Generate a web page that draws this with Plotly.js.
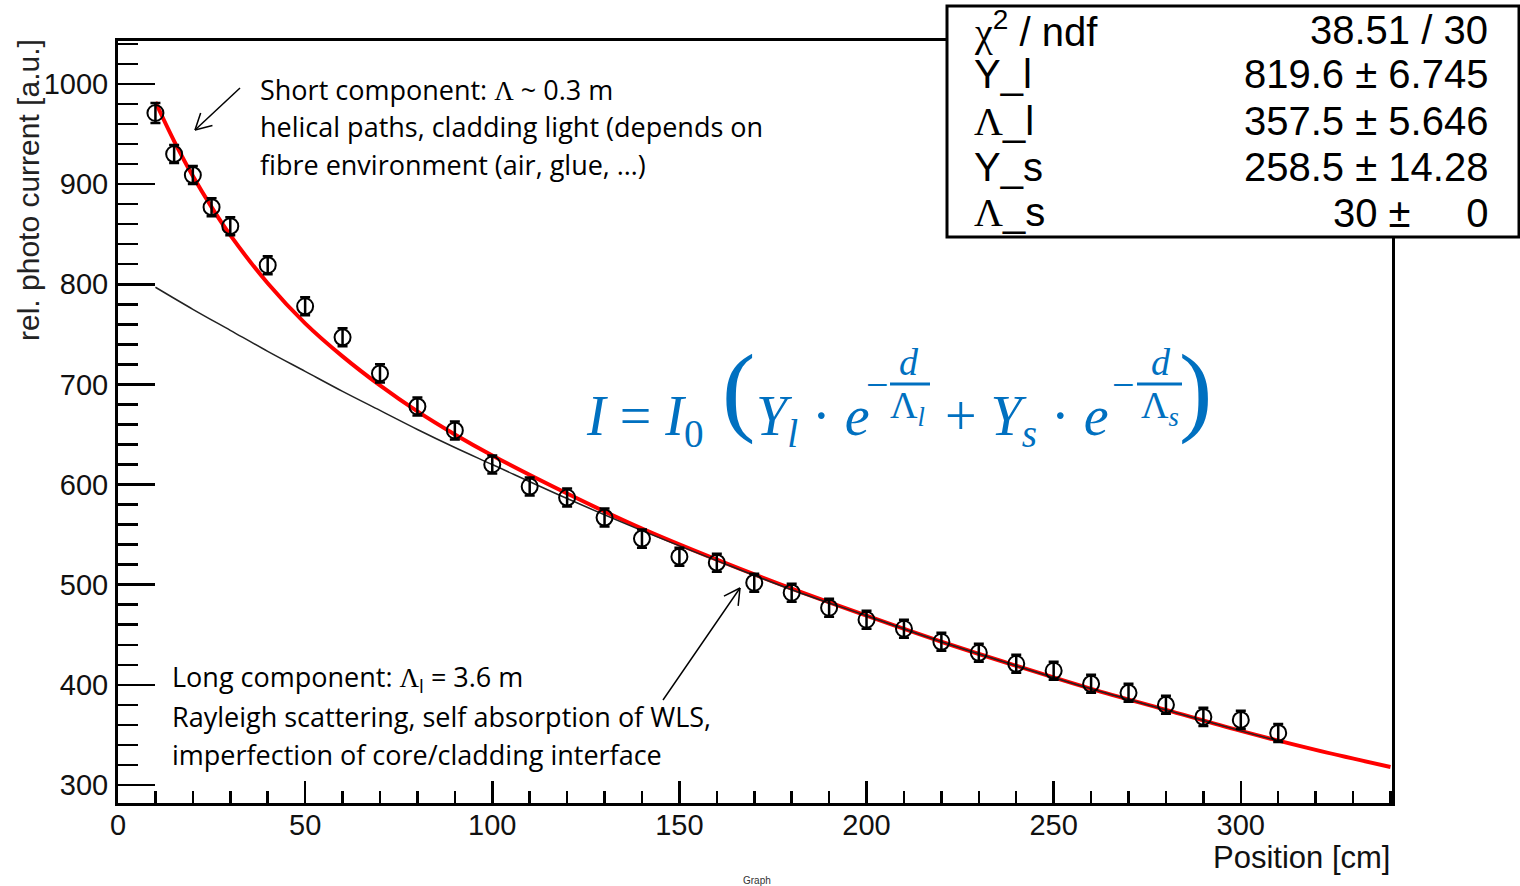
<!DOCTYPE html>
<html>
<head>
<meta charset="utf-8">
<script src="https://cdn.plot.ly/plotly-3.0.1.min.js"></script>
<style>
  body { margin: 0; background: #fff; }
  #myChart { width: 1520px; height: 886px; }
</style>
</head>
<body>
<div id="myChart"></div>
<script>
// measured points (position in cm, photo current)
var posCm = [10, 15, 20, 25, 30, 40, 50, 60, 70, 80, 90, 100, 110, 120, 130, 140, 150,
  160, 170, 180, 190, 200, 210, 220, 230, 240, 250, 260, 270, 280, 290, 300, 310];
var current = [971, 930, 909, 877, 858, 819, 778, 747, 711, 678, 654, 620, 598, 587, 567, 546, 528,
  522, 502, 492, 477, 465, 456, 443, 432, 421, 414, 401, 392, 380, 368, 365, 352];
var currentErr = [10, 9, 9, 9, 9, 9, 9, 9, 9, 9, 9, 9, 9, 9, 9, 9, 9,
  9, 9, 9, 9, 9, 9, 9, 9, 9, 9, 9, 9, 9, 9, 9, 9];

// red fit curve
var fitX = [10, 15, 20, 25, 30, 40, 50, 60, 70, 80, 90, 100, 120, 140, 160, 180, 200, 220, 240, 260, 280, 300, 320, 340];
var fitY = [982, 943, 908, 877, 849, 801, 761, 728, 699, 673, 650, 629, 591, 556, 525, 496, 469, 443, 419, 396, 375, 354, 335, 318];

// thin black long component curve
var longX = [10, 20, 30, 40, 50, 60, 70, 80, 90, 100, 120, 140, 160, 180, 200, 220, 240, 260, 280, 300, 310];
var longY = [797, 775, 754, 733, 713, 693, 674, 655, 637, 620, 586, 554, 524, 495, 469, 443, 419, 396, 375, 354, 344];

// stats box
var SERIF = "<span style='font-family:Liberation Serif'>";
var statNames = [SERIF + "χ</span><sup>2</sup> / ndf", "Y_l", SERIF + "Λ</span>_l", "Y_s", SERIF + "Λ</span>_s"];
var statValues = ["38.51 / 30", "819.6 ± 6.745", "357.5 ± 5.646", "258.5 ± 14.28", "30 ±&nbsp;&nbsp;&nbsp;&nbsp;&nbsp;0"];

var shortText = [
  "Short component: " + SERIF + "Λ</span> ~ 0.3 m",
  "helical paths, cladding light (depends on",
  "fibre environment (air, glue, …)"
];
var longText = [
  "Long component: " + SERIF + "Λ</span><sub>l</sub> = 3.6 m",
  "Rayleigh scattering, self absorption of WLS,",
  "imperfection of core/cladding interface"
];

// pieces of the formula: text, left/center pixel x, pixel y, anchor, size
var formula = [
  ["<i>I</i> = <i>I</i><sub>0</sub>", 584, 420, "left", 56],
  ["(", 738, 389, "center", 100],
  ["<i>Y<sub>l</sub></i> · <i>e</i>", 754, 420, "left", 56],
  ["−", 877, 384, "center", 40],
  ["<i>d</i>", 909, 362, "center", 38],
  ["Λ<i><sub>l</sub></i>", 908, 408, "center", 38],
  ["+ <i>Y<sub>s</sub></i> · <i>e</i>", 943, 420, "left", 56],
  ["−", 1123, 384, "center", 40],
  ["<i>d</i>", 1161, 362, "center", 38],
  ["Λ<i><sub>s</sub></i>", 1160, 408, "center", 38],
  [")", 1195, 389, "center", 100],
];
var fracBars = [[890, 930], [1137, 1182]];

// pointer arrows in pixels: tail x, tail y, head x, head y
var pointers = [[240, 88, 195, 130], [663, 700, 740, 588]];

document.addEventListener("DOMContentLoaded", () => {
  // plot area is 118..1392 px wide and 41..803 px tall
  function px(x) { return (x - 118) / 1274; }
  function py(y) { return (803 - y) / 762; }

  function line(x0, y0, x1, y1, color, width) {
    return {
      type: "line", xref: "paper", yref: "paper", layer: "above",
      x0: px(x0), y0: py(y0), x1: px(x1), y1: py(y1),
      line: { color: color, width: width },
    };
  }

  function PlotData() {
    var data = [
      {
        type: "scatter",
        x: fitX,
        y: fitY,
        mode: "lines",
        line: { color: "#ff0000", width: 4, shape: "spline" },
        hoverinfo: "skip",
      },
      {
        type: "scatter",
        x: longX,
        y: longY,
        mode: "lines",
        line: { color: "#222", width: 1.5, shape: "spline" },
        hoverinfo: "skip",
      },
      {
        type: "scatter",
        x: posCm,
        y: current,
        mode: "markers",
        marker: { symbol: "circle-open", size: 16, color: "#000", line: { width: 2, color: "#000" } },
        error_y: { type: "data", array: currentErr, visible: true, color: "#000", thickness: 2.5, width: 5 },
      },
    ];

    var sans = "Liberation Sans, Arial, sans-serif";
    var tickFont = { family: sans, size: 29, color: "#111" };
    var annotations = [];
    var shapes = [];

    // text blocks, one annotation per line
    shortText.forEach((t, i) => {
      annotations.push({
        xref: "paper", yref: "paper", x: px(258), y: py(89 + i * 38),
        xanchor: "left", yanchor: "middle", showarrow: false, text: t,
        font: { family: "Open Sans, sans-serif", size: 27, color: "#000" },
      });
    });
    longText.forEach((t, i) => {
      annotations.push({
        xref: "paper", yref: "paper", x: px(170), y: py(678 + i * 38),
        xanchor: "left", yanchor: "middle", showarrow: false, text: t,
        font: { family: "Open Sans, sans-serif", size: 27, color: "#000" },
      });
    });

    // thin open arrows
    pointers.forEach((p) => {
      shapes.push(line(p[0], p[1], p[2], p[3], "#000", 1.5));
      var ang = Math.atan2(p[1] - p[3], p[0] - p[2]);
      [-0.5, 0.5].forEach((d) => {
        shapes.push(line(p[2], p[3], p[2] + 18 * Math.cos(ang + d), p[3] + 18 * Math.sin(ang + d), "#000", 1.5));
      });
    });

    // formula, piece by piece
    formula.forEach((f) => {
      annotations.push({
        xref: "paper", yref: "paper", x: px(f[1]), y: py(f[2]), xanchor: f[3], yanchor: "middle",
        showarrow: false, text: f[0],
        font: { family: "Liberation Serif, DejaVu Serif, serif", size: f[4], color: "#0070c0" },
      });
    });
    fracBars.forEach((b) => {
      shapes.push(line(b[0], 384, b[1], 384, "#0070c0", 3));
    });

    // stats box
    shapes.push({
      type: "rect", xref: "paper", yref: "paper", layer: "above",
      x0: px(947), x1: px(1519), y0: py(237), y1: py(6),
      line: { color: "#000", width: 3 }, fillcolor: "#fff",
    });
    var rowY = [30, 74, 121, 167, 213];
    statNames.forEach((name, i) => {
      annotations.push({
        xref: "paper", yref: "paper", x: px(972), y: py(rowY[i]), xanchor: "left", yanchor: "middle",
        showarrow: false, text: name,
        font: { family: sans, size: 40, color: "#000" },
      });
      annotations.push({
        xref: "paper", yref: "paper", x: px(1490), y: py(rowY[i]), xanchor: "right", yanchor: "middle",
        showarrow: false, text: statValues[i],
        font: { family: sans, size: 40, color: "#000" },
      });
    });

    // axis titles as annotations (ROOT puts them at the axis end)
    annotations.push({
      xref: "paper", yref: "paper", x: px(28), y: py(37), xanchor: "center", yanchor: "top",
      textangle: -90, showarrow: false, text: "rel. photo current [a.u.]",
      font: { family: sans, size: 30, color: "#222" },
    });
    annotations.push({
      xref: "paper", yref: "paper", x: 1, y: py(857), xanchor: "right", yanchor: "middle",
      showarrow: false, text: "Position [cm]",
      font: { family: sans, size: 31, color: "#111" },
    });
    annotations.push({
      xref: "paper", yref: "paper", x: px(757), y: py(880), xanchor: "center", yanchor: "middle",
      showarrow: false, text: "Graph",
      font: { family: sans, size: 10, color: "#333" },
    });

    var layout = {
      width: 1520,
      height: 886,
      margin: { l: 118, r: 128, t: 41, b: 83 },
      paper_bgcolor: "#fff",
      plot_bgcolor: "#fff",
      showlegend: false,
      xaxis: {
        range: [0, 340.4],
        showgrid: false,
        zeroline: false,
        showline: true,
        mirror: true,
        linecolor: "#000",
        linewidth: 3,
        ticks: "inside",
        ticklen: 22,
        tickwidth: 2.5,
        tickcolor: "#000",
        dtick: 50,
        tick0: 0,
        minor: { dtick: 10, ticks: "inside", ticklen: 12, tickwidth: 2.5, tickcolor: "#000" },
        tickfont: tickFont,
        ticklabelstandoff: -6,
      },
      yaxis: {
        range: [282, 1042.9],
        showgrid: false,
        zeroline: false,
        showline: true,
        mirror: true,
        linecolor: "#000",
        linewidth: 3,
        ticks: "inside",
        ticklen: 37,
        tickwidth: 2.5,
        tickcolor: "#000",
        dtick: 100,
        tick0: 0,
        minor: { dtick: 20, ticks: "inside", ticklen: 20, tickwidth: 2.5, tickcolor: "#000" },
        tickfont: tickFont,
        ticklabelstandoff: 1,
      },
      shapes: shapes,
      annotations: annotations,
    };
    const config = { displayModeBar: false, staticPlot: true };
    Plotly.newPlot("myChart", data, layout, config);
  }

  PlotData();
});
</script>
</body>
</html>
